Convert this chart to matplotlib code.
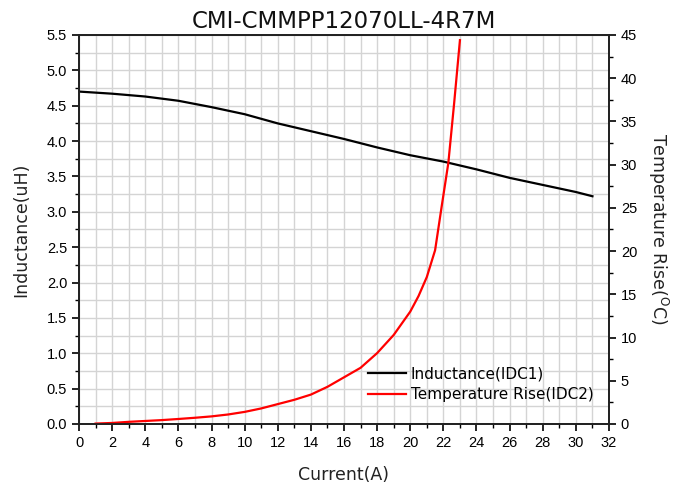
import matplotlib
matplotlib.use('Agg')
import matplotlib.pyplot as plt
from matplotlib.ticker import MultipleLocator

# inductance vs current (left axis)
current_L = [0, 2, 4, 6, 8, 10, 12, 14, 16, 18, 20, 22, 24, 26, 28, 30, 31]
inductance = [4.70, 4.67, 4.63, 4.57, 4.48, 4.38, 4.25, 4.14, 4.03, 3.91, 3.80, 3.71,
              3.60, 3.48, 3.38, 3.28, 3.22]

# temperature rise vs current (right axis)
current_T = [1, 2, 3, 4, 5, 6, 7, 8, 9, 10, 11, 12, 13, 14, 15, 16, 17, 18, 19, 20,
             20.5, 21, 21.5, 21.9, 22.3, 22.65, 23]
temp_rise = [0.05, 0.12, 0.25, 0.35, 0.45, 0.58, 0.72, 0.88, 1.1, 1.4, 1.8, 2.3, 2.8,
             3.4, 4.3, 5.4, 6.5, 8.2, 10.3, 13.0, 14.8, 17.0, 20.1, 25.2, 30.2, 37.1, 44.4]

plt.rcParams['font.family'] = ['Liberation Sans', 'DejaVu Sans']

fig = plt.figure(figsize=(6.9, 4.9), dpi=100)
ax = fig.add_axes([0.1145, 0.1347, 0.7681, 0.7939])
ax2 = ax.twinx()

l1, = ax.plot(current_L, inductance, color='black', lw=1.6, label='Inductance(IDC1)')
l2, = ax2.plot(current_T, temp_rise, color='red', lw=1.6, label='Temperature Rise(IDC2)')

ax.set_xlim(0, 32)
ax.set_ylim(0, 5.5)
ax2.set_ylim(0, 45)

ax.xaxis.set_major_locator(MultipleLocator(2))
ax.xaxis.set_minor_locator(MultipleLocator(1))
ax.yaxis.set_major_locator(MultipleLocator(0.5))
ax.yaxis.set_minor_locator(MultipleLocator(0.25))
ax2.yaxis.set_major_locator(MultipleLocator(5))
ax2.yaxis.set_minor_locator(MultipleLocator(2.5))

ax.grid(True, which='both', color='#d4d4d4', lw=1.0)
ax.set_axisbelow(True)

for a in (ax, ax2):
    a.tick_params(which='major', direction='out', length=5, width=1.2, labelsize=10.5, color='black')
    a.tick_params(which='minor', direction='out', length=3, width=1.0, color='black')
    for s in a.spines.values():
        s.set_linewidth(1.3)
        s.set_color('#222222')

ax.set_title('CMI-CMMPP12070LL-4R7M', fontsize=16.5, family=['DejaVu Sans'], pad=5,
             color='#111111')
ax.set_xlabel('Current(A)', fontsize=12.5, family=['DejaVu Sans'], labelpad=12, color='#222222')
ax.set_ylabel('Inductance(uH)', fontsize=12.5, family=['DejaVu Sans'], labelpad=12, color='#222222')
ax2.set_ylabel(r'Temperature Rise($^{\rm O}$C)', fontsize=12.5, family=['DejaVu Sans'],
               rotation=270, labelpad=24, color='#222222')

ax2.legend([l1, l2], [l1.get_label(), l2.get_label()], loc='lower left',
           bbox_to_anchor=(0.519, 0.02), frameon=False,
           handlelength=2.5, handletextpad=0.3, labelspacing=0.4,
           prop={'family': ['DejaVu Sans'], 'size': 11})

fig.savefig('out.png', dpi=100)
